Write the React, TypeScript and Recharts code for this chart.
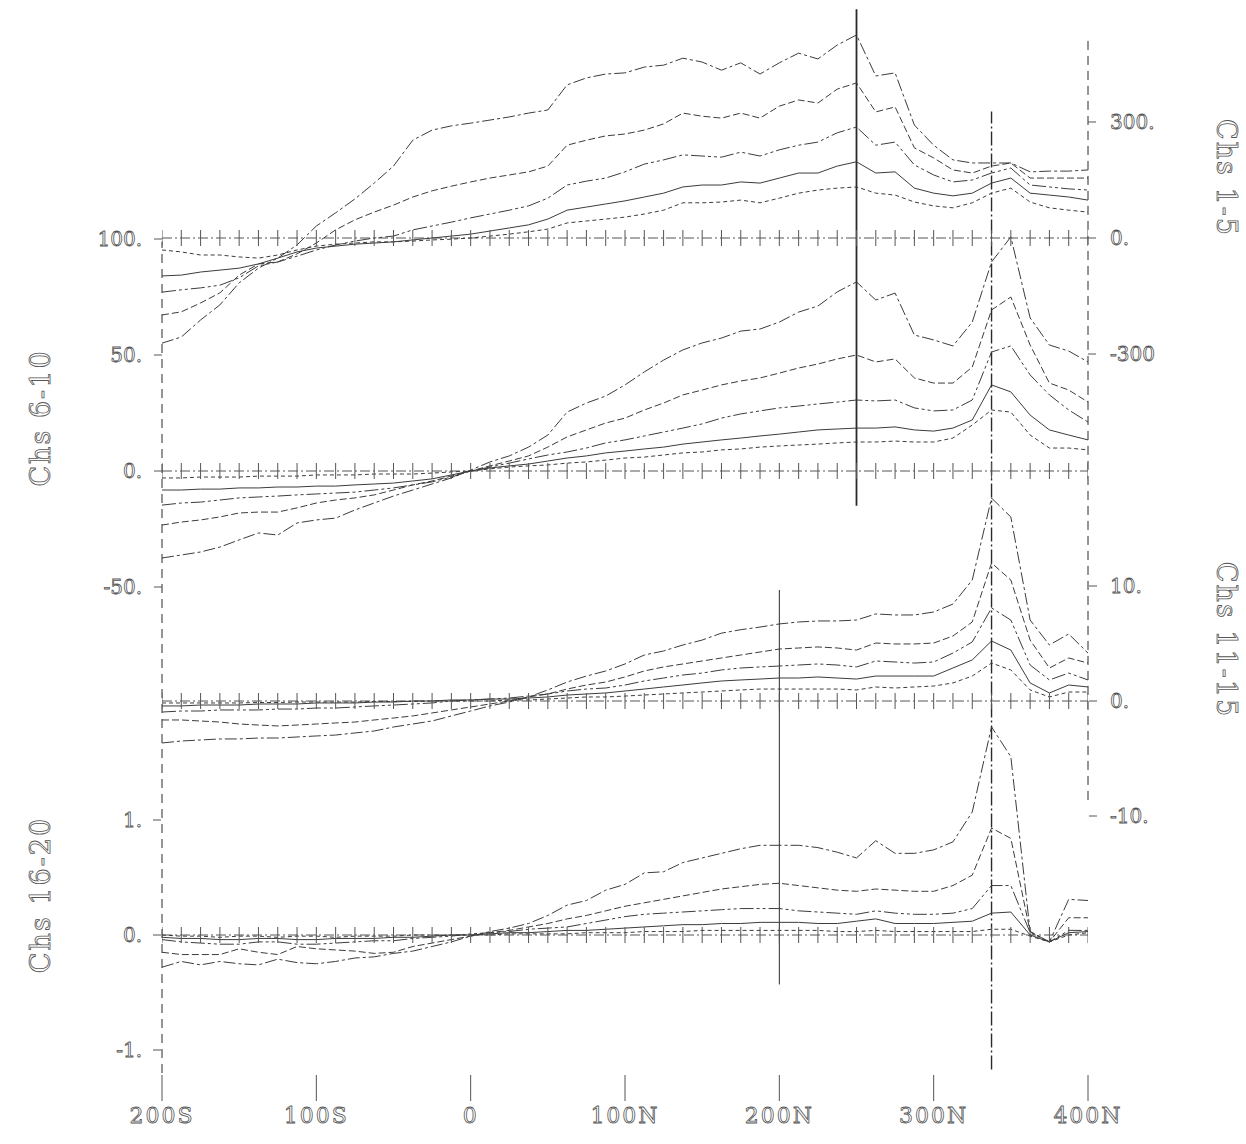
import React from 'react';
import { LineChart, Line, XAxis, YAxis, ReferenceLine } from 'recharts';

// stations along the line (negative = South, positive = North)
const stations = [
  -200, -187.5, -175, -162.5, -150, -137.5, -125, -112.5, -100, -87.5, -75, -62.5, -50,
  -37.5, -25, -12.5, 0, 12.5, 25, 37.5, 50, 62.5, 75, 87.5, 100, 112.5, 125, 137.5, 150,
  162.5, 175, 187.5, 200, 212.5, 225, 237.5, 250, 262.5, 275, 287.5, 300, 312.5, 325,
  337.5, 350, 362.5, 375, 387.5, 400,
];

// Chs 1-5
const ch1 = [-272, -256, -212, -173, -116, -78, -52, -18, 31, 65, 101, 142, 186, 253, 279, 290, 297, 305, 313, 323, 331, 396, 414, 424, 427, 442, 447, 465, 455, 434, 453, 424, 453, 478, 463, 499, 525, 419, 427, 292, 240, 202, 194, 194, 194, 171, 173, 173, 176];
const ch2 = [-199, -191, -168, -142, -96, -67, -62, -41, -13, 21, 47, 67, 85, 106, 122, 134, 145, 155, 163, 171, 186, 240, 253, 264, 269, 279, 295, 323, 315, 310, 323, 310, 341, 357, 349, 385, 401, 326, 339, 233, 207, 176, 168, 186, 194, 155, 155, 155, 155];
const ch3 = [-140, -134, -129, -122, -103, -72, -62, -47, -31, -18, -8, 0, 5, 21, 31, 41, 52, 62, 72, 83, 103, 137, 147, 155, 171, 191, 202, 215, 212, 209, 222, 212, 228, 240, 248, 272, 287, 240, 248, 189, 163, 145, 150, 168, 181, 137, 132, 127, 124];
const ch4 = [-98, -96, -88, -83, -78, -67, -52, -36, -26, -21, -16, -13, -10, -5, 0, 5, 10, 18, 26, 34, 49, 72, 80, 88, 96, 106, 116, 132, 137, 137, 145, 142, 155, 168, 168, 186, 197, 168, 171, 129, 116, 109, 116, 142, 155, 116, 111, 106, 98];
const ch5 = [-31, -36, -44, -44, -49, -52, -44, -31, -21, -16, -13, -10, -10, -8, -5, -3, 0, 5, 10, 16, 23, 39, 44, 49, 54, 62, 72, 91, 91, 93, 98, 91, 103, 116, 124, 129, 132, 116, 111, 93, 83, 78, 91, 116, 129, 93, 78, 72, 67];

// Chs 6-10
const ch6 = [-37.5, -36.2, -34.9, -32.8, -29.7, -26.7, -27.6, -22.4, -21.1, -20.3, -16.8, -13.8, -10.8, -8.2, -5.6, -3.0, 0.4, 3.9, 6.5, 10.3, 15.5, 25.4, 29.3, 32.3, 37.1, 42.7, 47.8, 52.2, 55.2, 57.3, 60.3, 61.2, 64.2, 68.5, 71.1, 77.2, 81.5, 73.7, 76.7, 58.6, 56.5, 53.9, 64.2, 90.1, 100.9, 66.0, 54.3, 51.7, 47.0];
const ch7 = [-23.3, -22.0, -21.1, -19.8, -18.1, -17.7, -17.7, -15.9, -13.8, -12.5, -11.6, -10.3, -8.2, -6.0, -4.3, -2.2, 0, 2.2, 4.3, 6.5, 10.3, 14.7, 17.7, 20.7, 22.8, 26.3, 29.3, 32.8, 34.9, 37.1, 38.8, 40.1, 42.2, 44.4, 46.1, 48.3, 50.0, 47.0, 48.3, 40.1, 37.9, 37.9, 44.8, 69.4, 75.0, 54.3, 37.9, 34.9, 29.7];
const ch8 = [-14.7, -13.8, -13.4, -12.5, -11.6, -11.2, -10.8, -10.3, -9.9, -9.5, -9.1, -8.2, -7.3, -6.0, -4.7, -2.6, 0, 1.7, 3.4, 5.2, 6.9, 8.2, 9.9, 12.1, 13.4, 15.1, 16.8, 18.5, 20.3, 22.8, 24.6, 25.9, 27.2, 28.0, 28.9, 29.7, 30.6, 30.2, 30.6, 27.2, 25.9, 26.3, 30.6, 51.3, 53.9, 41.4, 32.8, 26.3, 21.1];
const ch9 = [-8.2, -8.2, -7.8, -7.8, -7.3, -7.3, -6.9, -6.9, -6.5, -6.5, -6.0, -5.6, -5.2, -4.3, -3.4, -1.7, 0, 1.3, 2.2, 3.0, 4.3, 5.6, 6.5, 7.8, 8.6, 9.5, 10.3, 11.6, 12.5, 13.4, 14.2, 15.1, 15.9, 16.8, 17.7, 18.1, 18.5, 18.5, 19.0, 17.7, 17.2, 18.5, 22.0, 37.1, 34.1, 24.1, 17.7, 15.5, 13.4];
const ch10 = [-3.0, -3.0, -2.6, -2.6, -2.6, -2.2, -2.2, -2.2, -1.7, -1.7, -1.7, -1.3, -1.3, -1.3, -0.9, -0.4, 0, 0.9, 1.7, 2.2, 2.6, 3.4, 3.9, 4.7, 5.6, 6.0, 6.9, 7.8, 8.2, 9.1, 9.5, 10.3, 10.8, 11.2, 11.6, 12.1, 12.5, 12.5, 12.9, 12.5, 12.5, 14.2, 19.8, 26.3, 25.4, 15.5, 9.9, 9.9, 9.1];

// Chs 11-15
const ch11 = [-3.65, -3.48, -3.39, -3.3, -3.3, -3.22, -3.22, -3.13, -3.04, -2.96, -2.78, -2.61, -2.26, -2.0, -1.74, -1.3, -0.87, -0.43, -0.09, 0.35, 0.96, 1.65, 2.17, 2.61, 3.22, 4.0, 4.35, 4.87, 5.3, 5.9, 6.2, 6.43, 6.7, 6.87, 6.96, 6.96, 7.04, 7.57, 7.48, 7.48, 7.74, 8.43, 10.52, 17.65, 16.0, 7.04, 4.87, 5.83, 4.17];
const ch12 = [-1.65, -1.65, -1.74, -1.83, -2.0, -2.09, -2.17, -2.09, -2.0, -1.91, -1.83, -1.65, -1.48, -1.3, -1.04, -0.78, -0.52, -0.26, 0, 0.35, 0.61, 1.04, 1.39, 1.65, 2.09, 2.61, 2.96, 3.22, 3.48, 3.74, 4.0, 4.26, 4.52, 4.61, 4.7, 4.61, 4.43, 5.04, 4.96, 4.96, 5.04, 5.65, 6.87, 12.0, 10.52, 5.3, 2.87, 3.74, 3.3];
const ch13 = [-0.96, -0.87, -0.87, -0.78, -0.78, -0.78, -0.7, -0.7, -0.61, -0.61, -0.52, -0.43, -0.35, -0.26, -0.17, 0, 0.09, 0.17, 0.26, 0.43, 0.61, 0.87, 1.04, 1.13, 1.39, 1.74, 2.0, 2.26, 2.43, 2.7, 2.87, 2.96, 3.04, 3.13, 3.22, 3.13, 2.96, 3.48, 3.39, 3.3, 3.39, 4.17, 5.13, 8.09, 7.04, 3.13, 1.83, 2.43, 1.83];
const ch14 = [-0.43, -0.43, -0.35, -0.35, -0.35, -0.26, -0.26, -0.26, -0.17, -0.17, -0.17, -0.09, -0.09, 0, 0, 0.09, 0.09, 0.17, 0.17, 0.26, 0.35, 0.52, 0.61, 0.7, 0.87, 1.04, 1.22, 1.39, 1.57, 1.74, 1.83, 1.91, 2.0, 2.0, 2.09, 2.0, 1.91, 2.17, 2.17, 2.17, 2.17, 2.87, 3.57, 5.22, 4.43, 1.57, 0.7, 1.39, 1.22];
const ch15 = [-0.17, -0.17, -0.17, -0.17, -0.17, -0.13, -0.13, -0.09, -0.09, -0.09, -0.09, -0.04, -0.04, -0.04, 0, 0, 0, 0, 0.09, 0.09, 0.17, 0.26, 0.35, 0.35, 0.43, 0.52, 0.61, 0.7, 0.78, 0.87, 0.96, 1.04, 1.04, 1.04, 1.04, 1.04, 0.96, 1.22, 1.13, 1.22, 1.3, 1.57, 2.17, 3.3, 2.7, 0.96, 0.35, 0.78, 0.78];

// Chs 16-20
const ch16 = [-0.28, -0.23, -0.26, -0.23, -0.25, -0.26, -0.21, -0.24, -0.25, -0.23, -0.2, -0.19, -0.16, -0.14, -0.1, -0.06, -0.01, 0.03, 0.06, 0.1, 0.17, 0.26, 0.3, 0.39, 0.44, 0.54, 0.55, 0.63, 0.67, 0.71, 0.75, 0.78, 0.78, 0.78, 0.76, 0.72, 0.67, 0.82, 0.71, 0.71, 0.74, 0.81, 1.07, 1.81, 1.55, 0.03, -0.06, 0.31, 0.3];
const ch17 = [-0.15, -0.17, -0.17, -0.17, -0.12, -0.15, -0.17, -0.1, -0.12, -0.13, -0.14, -0.16, -0.15, -0.1, -0.07, -0.04, -0.01, 0.02, 0.04, 0.07, 0.1, 0.14, 0.17, 0.21, 0.25, 0.28, 0.31, 0.34, 0.37, 0.4, 0.42, 0.44, 0.45, 0.43, 0.41, 0.39, 0.38, 0.4, 0.39, 0.38, 0.38, 0.43, 0.52, 0.93, 0.84, 0.03, -0.06, 0.15, 0.15];
const ch18 = [-0.04, -0.06, -0.07, -0.08, -0.08, -0.06, -0.06, -0.08, -0.08, -0.07, -0.06, -0.05, -0.05, -0.03, -0.02, -0.01, 0.01, 0.02, 0.03, 0.05, 0.06, 0.07, 0.1, 0.13, 0.16, 0.18, 0.19, 0.2, 0.21, 0.22, 0.23, 0.23, 0.23, 0.21, 0.2, 0.19, 0.18, 0.21, 0.19, 0.18, 0.18, 0.19, 0.23, 0.43, 0.43, 0.02, -0.06, 0.04, 0.04];
const ch19 = [-0.02, -0.03, -0.03, -0.04, -0.04, -0.03, -0.03, -0.04, -0.04, -0.03, -0.03, -0.03, -0.02, -0.02, -0.01, 0, 0, 0.01, 0.02, 0.02, 0.03, 0.04, 0.04, 0.05, 0.06, 0.07, 0.08, 0.09, 0.09, 0.1, 0.1, 0.11, 0.11, 0.11, 0.1, 0.1, 0.12, 0.14, 0.1, 0.1, 0.1, 0.11, 0.12, 0.19, 0.2, 0, -0.06, 0.02, 0.03];
const ch20 = [0, -0.01, -0.01, -0.02, -0.01, -0.01, -0.02, -0.01, -0.01, -0.02, -0.01, -0.01, -0.01, 0, 0, 0, 0, 0, 0.01, 0.01, 0.01, 0.01, 0.02, 0.02, 0.02, 0.03, 0.03, 0.03, 0.04, 0.04, 0.04, 0.04, 0.04, 0.04, 0.04, 0.03, 0.03, 0.04, 0.03, 0.03, 0.03, 0.03, 0.03, 0.05, 0.05, -0.01, -0.06, 0, 0.02];

const xTicks = [-200, -100, 0, 100, 200, 300, 400];
const xTickLabels = ['200S', '100S', '0', '100N', '200N', '300N', '400N'];

const p1Ticks = [300, 0, -300];
const p1Labels = ['300.', '0.', '-300'];
const p2Ticks = [100, 50, 0, -50];
const p2Labels = ['100.', '50.', '0.', '-50.'];
const p3Ticks = [10, 0, -10];
const p3Labels = ['10.', '0.', '-10.'];
const p4Ticks = [1, 0, -1];
const p4Labels = ['1.', '0.', '-1.'];

// layout: plot area spans y 0..1075, each panel has its own baseline (px) and scale (px per unit)
const W = 1246;
const H = 1144;
const PLOT_BOTTOM = 1075;
const panels = {
  p1: { base: 238, k: 0.3867 },
  p2: { base: 471, k: 2.32 },
  p3: { base: 701, k: 11.5 },
  p4: { base: 935, k: 115 },
};
const dom = (p: { base: number; k: number }): [number, number] => [
  (p.base - PLOT_BOTTOM) / p.k,
  p.base / p.k,
];

const dashes = ['12 3 3 3', '7 3', '14 3 3 3 3 3', '', '4 3'];
const series = [
  { key: 'ch1', axis: 'p1', values: ch1 },
  { key: 'ch2', axis: 'p1', values: ch2 },
  { key: 'ch3', axis: 'p1', values: ch3 },
  { key: 'ch4', axis: 'p1', values: ch4 },
  { key: 'ch5', axis: 'p1', values: ch5 },
  { key: 'ch6', axis: 'p2', values: ch6 },
  { key: 'ch7', axis: 'p2', values: ch7 },
  { key: 'ch8', axis: 'p2', values: ch8 },
  { key: 'ch9', axis: 'p2', values: ch9 },
  { key: 'ch10', axis: 'p2', values: ch10 },
  { key: 'ch11', axis: 'p3', values: ch11 },
  { key: 'ch12', axis: 'p3', values: ch12 },
  { key: 'ch13', axis: 'p3', values: ch13 },
  { key: 'ch14', axis: 'p3', values: ch14 },
  { key: 'ch15', axis: 'p3', values: ch15 },
  { key: 'ch16', axis: 'p4', values: ch16 },
  { key: 'ch17', axis: 'p4', values: ch17 },
  { key: 'ch18', axis: 'p4', values: ch18 },
  { key: 'ch19', axis: 'p4', values: ch19 },
  { key: 'ch20', axis: 'p4', values: ch20 },
];

const rows = stations.map((s, i) => {
  const row: Record<string, number> = { s, base: 0 };
  series.forEach((c) => {
    row[c.key] = c.values[i];
  });
  return row;
});

// vertical marker lines: station, axis, from, to (axis units)
const markers = [
  { x: 250, axis: 'p2', y1: -15, y2: 199, dash: '', w: 1.8 },
  { x: 337.5, axis: 'p2', y1: -258, y2: 155, dash: '14 3 2 3', w: 1.4 },
  { x: 200, axis: 'p4', y1: -0.43, y2: 3.0, dash: '', w: 1 },
  { x: -200, axis: 'p4', y1: -1.2, y2: 6.03, dash: '9 6', w: 1 },
  { x: 400, axis: 'p3', y1: -8.6, y2: 57.5, dash: '9 6', w: 1 },
];

const ink = '#3c3c3c';
const tickText = {
  fontFamily: 'DejaVu Serif, serif',
  fontSize: 20,
  fill: '#fff',
  stroke: '#555',
  strokeWidth: 0.8,
};
const xTickText = { ...tickText, fontSize: 22, letterSpacing: 2 };

const tickDot = (props: any) => {
  const { cx, cy, index } = props;
  if (cx == null || cy == null) return <g key={`t-${index}`} />;
  return (
    <line key={`t-${index}`} x1={cx} x2={cx} y1={cy - 8} y2={cy + 8} stroke="#555" strokeWidth={1} />
  );
};

const labelFmt = (ticks: number[], labels: string[]) => (v: number) => labels[ticks.indexOf(v)] ?? '';

const sideLabel = (text: string, x: number, y: number, angle: number) => (
  <div
    style={{
      position: 'absolute',
      left: x,
      top: y,
      transform: `translate(-50%, -50%) rotate(${angle}deg)`,
      fontFamily: 'DejaVu Serif, serif',
      fontSize: 27,
      letterSpacing: 2,
      color: '#fff',
      WebkitTextStroke: '0.8px #555',
      whiteSpace: 'nowrap',
    }}
  >
    {text}
  </div>
);

const App: React.FC = () => {
  return (
    <div style={{ position: 'absolute', left: 0, top: 0, width: W, height: H, background: '#fff' }}>
      <LineChart width={W} height={H} data={rows} margin={{ top: 0, right: 156, bottom: 0, left: 160 }}>
        <XAxis
          dataKey="s"
          type="number"
          domain={[-200, 400]}
          allowDataOverflow
          ticks={xTicks}
          interval={0}
          tickFormatter={labelFmt(xTicks, xTickLabels)}
          axisLine={false}
          tickSize={26}
          tickMargin={6}
          height={69}
          tick={xTickText}
          tickLine={{ stroke: '#555' }}
        />
        <YAxis yAxisId="p1" orientation="right" type="number" domain={dom(panels.p1)} allowDataOverflow
          ticks={p1Ticks} interval={0} tickFormatter={labelFmt(p1Ticks, p1Labels)} width={1}
          axisLine={false} tickSize={8} tickMargin={14} tick={tickText} tickLine={{ stroke: '#555' }} />
        <YAxis yAxisId="p2" orientation="left" type="number" domain={dom(panels.p2)} allowDataOverflow
          ticks={p2Ticks} interval={0} tickFormatter={labelFmt(p2Ticks, p2Labels)} width={1}
          axisLine={false} tickSize={8} tickMargin={12} tick={tickText} tickLine={{ stroke: '#555' }} />
        <YAxis yAxisId="p3" orientation="right" type="number" domain={dom(panels.p3)} allowDataOverflow
          ticks={p3Ticks} interval={0} tickFormatter={labelFmt(p3Ticks, p3Labels)} width={1}
          axisLine={false} tickSize={8} tickMargin={13} tick={tickText} tickLine={{ stroke: '#555' }} />
        <YAxis yAxisId="p4" orientation="left" type="number" domain={dom(panels.p4)} allowDataOverflow
          ticks={p4Ticks} interval={0} tickFormatter={labelFmt(p4Ticks, p4Labels)} width={1}
          axisLine={false} tickSize={8} tickMargin={11} tick={tickText} tickLine={{ stroke: '#555' }} />

        {markers.map((m, i) => (
          <ReferenceLine
            key={`m-${i}`}
            yAxisId={m.axis}
            segment={[{ x: m.x, y: m.y1 }, { x: m.x, y: m.y2 }]}
            stroke="#2a2a2a"
            strokeWidth={m.w}
            strokeDasharray={m.dash || undefined}
            ifOverflow="visible"
          />
        ))}

        {['p1', 'p2', 'p3', 'p4'].map((ax) => (
          <Line
            key={`base-${ax}`}
            yAxisId={ax}
            dataKey="base"
            type="linear"
            stroke="#555"
            strokeWidth={1}
            strokeDasharray="10 3 2 3"
            dot={tickDot}
            activeDot={false}
            isAnimationActive={false}
          />
        ))}

        {series.map((c, i) => (
          <Line
            key={c.key}
            yAxisId={c.axis}
            dataKey={c.key}
            type="linear"
            stroke={ink}
            strokeWidth={1}
            strokeDasharray={dashes[i % 5] || undefined}
            dot={false}
            activeDot={false}
            isAnimationActive={false}
          />
        ))}
      </LineChart>
      {sideLabel('Chs 1-5', 1226, 178, 90)}
      {sideLabel('Chs 6-10', 40, 418, -90)}
      {sideLabel('Chs 11-15', 1226, 640, 90)}
      {sideLabel('Chs 16-20', 40, 895, -90)}
    </div>
  );
};

export default App;
